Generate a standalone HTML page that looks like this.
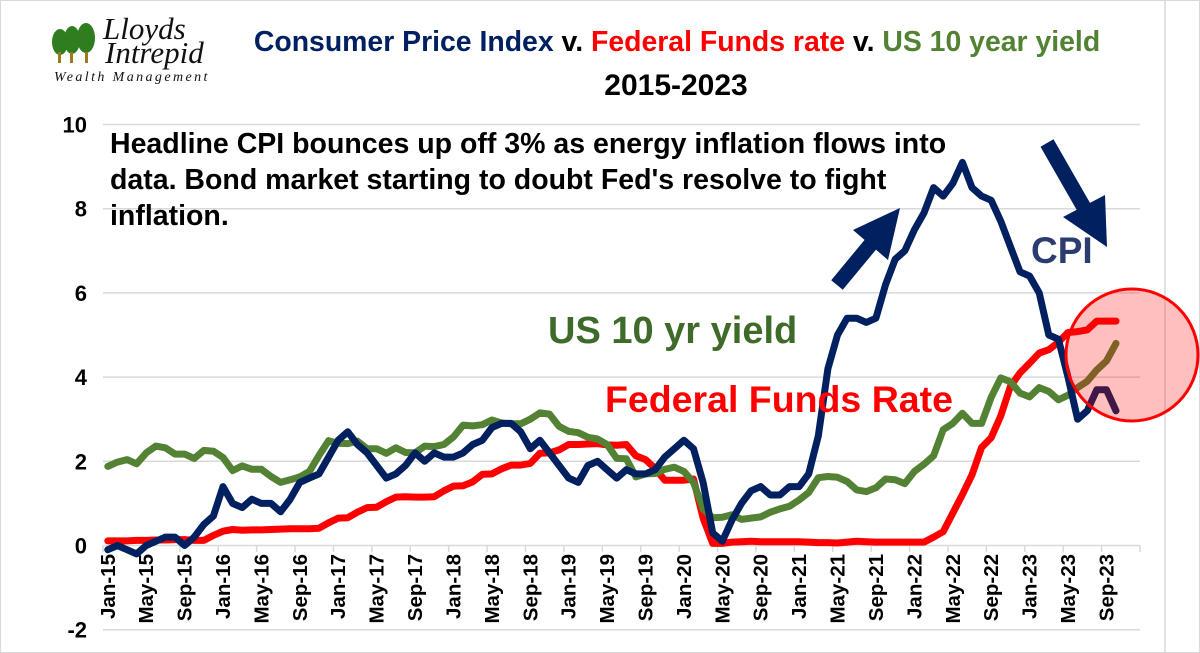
<!DOCTYPE html>
<html><head><meta charset="utf-8"><style>
body{margin:0;background:#fff;}
svg{display:block;font-family:"Liberation Sans",sans-serif;}
</style></head><body>
<svg id="chart" width="1200" height="653" viewBox="0 0 1200 653" xmlns="http://www.w3.org/2000/svg">
<rect x="0.5" y="0.5" width="1199" height="652" fill="#fff" stroke="#d9d9d9"/>
<line x1="1165" y1="0" x2="1165" y2="653" stroke="#d9d9d9" stroke-width="1.5"/>
<g>
  <g fill="#2e7d1e">
    <ellipse cx="60" cy="42" rx="8" ry="13"/><ellipse cx="72" cy="40" rx="8" ry="14"/><ellipse cx="86" cy="38" rx="9" ry="15"/>
  </g>
  <g fill="#a0781e"><rect x="58" y="52" width="3" height="11"/><rect x="70" y="52" width="3" height="11"/><rect x="85" y="52" width="3" height="11"/></g>
  <text x="103" y="39" font-family="Liberation Serif,serif" font-style="italic" font-size="31" fill="#111">Lloyds</text>
  <text x="105" y="63" font-family="Liberation Serif,serif" font-style="italic" font-size="31" fill="#111">Intrepid</text>
  <text x="54" y="81" font-family="Liberation Serif,serif" font-style="italic" font-size="14" letter-spacing="2.4" fill="#111">Wealth Management</text>
</g>
<text x="677" y="51" text-anchor="middle" font-weight="bold" font-size="28.4"><tspan fill="#002060">Consumer Price Index</tspan><tspan fill="#000"> v. </tspan><tspan fill="#ff0000">Federal Funds rate</tspan><tspan fill="#000"> v. </tspan><tspan fill="#548235">US 10 year yield</tspan></text>
<text x="676" y="95" text-anchor="middle" font-weight="bold" font-size="30" fill="#000">2015-2023</text>
<g id="grid"></g>
<g id="yticks"></g>
<g id="xticks"></g>
<g id="series"></g>
<g font-weight="bold" font-size="28.5" fill="#000">
  <text x="110" y="153">Headline CPI bounces up off 3% as energy inflation flows into</text>
  <text x="110" y="189">data. Bond market starting to doubt Fed's resolve to fight</text>
  <text x="110" y="225">inflation.</text>
</g>
<text x="1031" y="263" font-weight="bold" font-size="37" fill="#2a3d6e">CPI</text>
<text x="548" y="343" font-weight="bold" font-size="38" fill="#3e6b2a">US 10 yr yield</text>
<text x="605" y="412" font-weight="bold" font-size="37.5" fill="#ff0000">Federal Funds Rate</text>
<g fill="#002060">
  <line x1="837" y1="285" x2="880" y2="233" stroke="#002060" stroke-width="15"/>
  <polygon points="853,230 900,208 888,260"/>
</g>
<g fill="#002060">
  <line x1="1047" y1="143" x2="1090" y2="218" stroke="#002060" stroke-width="15"/>
  <polygon points="1063,217 1107,247 1105,195"/>
</g>
<circle cx="1132" cy="355" r="66" fill="rgba(255,0,0,0.25)" stroke="#ff0000" stroke-width="3"/>
</svg>
<script>
const months = ["Jan","Feb","Mar","Apr","May","Jun","Jul","Aug","Sep","Oct","Nov","Dec"];
const years = [15,16,17,18,19,20,21,22,23];
const yTicks = [-2,0,2,4,6,8,10];
const cpi = [-0.1,0.0,-0.1,-0.2,0.0,0.1,0.2,0.2,0.0,0.2,0.5,0.7,
1.4,1.0,0.9,1.1,1.0,1.0,0.8,1.1,1.5,1.6,1.7,2.1,
2.5,2.7,2.4,2.2,1.9,1.6,1.7,1.9,2.2,2.0,2.2,2.1,
2.1,2.2,2.4,2.5,2.8,2.9,2.9,2.7,2.3,2.5,2.2,1.9,
1.6,1.5,1.9,2.0,1.8,1.6,1.8,1.7,1.7,1.8,2.1,2.3,
2.5,2.3,1.5,0.3,0.1,0.6,1.0,1.3,1.4,1.2,1.2,1.4,
1.4,1.7,2.6,4.2,5.0,5.4,5.4,5.3,5.4,6.2,6.8,7.0,
7.5,7.9,8.5,8.3,8.6,9.1,8.5,8.3,8.2,7.7,7.1,6.5,
6.4,6.0,5.0,4.9,4.0,3.0,3.2,3.7,3.7,3.2];
const fed = [0.11,0.11,0.11,0.12,0.12,0.13,0.13,0.14,0.14,0.12,0.12,0.24,
0.34,0.38,0.36,0.37,0.37,0.38,0.39,0.40,0.40,0.40,0.41,0.54,
0.65,0.66,0.79,0.90,0.91,1.04,1.15,1.16,1.15,1.15,1.16,1.30,
1.41,1.42,1.51,1.69,1.70,1.82,1.91,1.91,1.95,2.19,2.20,2.27,
2.40,2.40,2.41,2.42,2.39,2.38,2.40,2.13,2.04,1.83,1.55,1.55,
1.55,1.58,0.65,0.05,0.05,0.08,0.09,0.10,0.09,0.09,0.09,0.09,
0.09,0.08,0.07,0.07,0.06,0.08,0.10,0.09,0.08,0.08,0.08,0.08,
0.08,0.08,0.20,0.33,0.77,1.21,1.68,2.33,2.56,3.08,3.78,4.10,
4.33,4.57,4.65,4.83,5.06,5.08,5.12,5.33,5.33,5.33];
const us10 = [1.88,1.98,2.04,1.94,2.20,2.36,2.32,2.17,2.17,2.07,2.26,2.24,
2.09,1.78,1.89,1.81,1.81,1.64,1.50,1.56,1.63,1.76,2.14,2.49,
2.43,2.42,2.48,2.30,2.30,2.19,2.32,2.21,2.20,2.36,2.35,2.40,
2.58,2.86,2.84,2.87,2.98,2.91,2.89,2.89,3.00,3.15,3.12,2.83,
2.71,2.68,2.57,2.53,2.40,2.07,2.06,1.63,1.70,1.71,1.81,1.86,
1.76,1.50,0.87,0.66,0.67,0.73,0.62,0.65,0.68,0.79,0.87,0.93,
1.08,1.26,1.61,1.64,1.62,1.52,1.32,1.28,1.37,1.58,1.56,1.47,
1.76,1.93,2.13,2.75,2.90,3.14,2.90,2.90,3.52,3.98,3.89,3.62,
3.53,3.75,3.66,3.46,3.57,3.75,3.90,4.17,4.38,4.80];

const NS="http://www.w3.org/2000/svg";
const X0=103, X1=1140, NCAT=108, CW=(X1-X0)/NCAT;
const xPos=i=>X0+CW*(i+0.5);
const yPos=v=>545.5-v*42.1;
function mk(tag,parent){const e=document.createElementNS(NS,tag);parent.appendChild(e);return e;}
const grid=document.getElementById('grid'), yt=document.getElementById('yticks'), xt=document.getElementById('xticks'), ser=document.getElementById('series');
yTicks.forEach(v=>{
  const l=mk('line',grid);
  
  
  l.setAttribute('x1',X0);l.setAttribute('x2',X1);l.setAttribute('y1',yPos(v));l.setAttribute('y2',yPos(v));
  l.setAttribute('stroke','#d9d9d9');l.setAttribute('stroke-width','1.5');
  const t=mk('text',yt);
  
  
  t.setAttribute('x',87);t.setAttribute('y',yPos(v)+8);t.setAttribute('text-anchor','end');
  t.setAttribute('font-weight','bold');t.setAttribute('font-size','22');t.textContent=v;
});
const labels=[];
years.forEach(y=>months.forEach(m=>labels.push(m+'-'+y)));
for(let i=0;i<=NCAT;i+=4){
  const x=X0+CW*i;
  const tk=mk('line',xt);
  
  
  tk.setAttribute('x1',x);tk.setAttribute('x2',x);tk.setAttribute('y1',545.5);tk.setAttribute('y2',552);
  tk.setAttribute('stroke','#d9d9d9');tk.setAttribute('stroke-width','1.5');
  if(i<labels.length && i<=104){
    const t=mk('text',xt);
    
    
    const cx=xPos(i)+7;
    t.setAttribute('transform','translate('+cx+',554) rotate(-90)');
    t.setAttribute('text-anchor','end');t.setAttribute('font-weight','bold');t.setAttribute('font-size','20.5');
    t.textContent=labels[i];
  }
}
function line(data,color,name){
  const p=mk('polyline',ser);
  
  
  p.setAttribute('points',data.map((v,i)=>xPos(i).toFixed(1)+','+yPos(v).toFixed(1)).join(' '));
  p.setAttribute('fill','none');p.setAttribute('stroke',color);p.setAttribute('stroke-width','7');
  p.setAttribute('stroke-linejoin','round');p.setAttribute('stroke-linecap','round');
}
line(fed,'#ff0000','fed-funds-line');
line(us10,'#548235','us10-line');
line(cpi,'#002060','cpi-line');
</script>
</body></html>
